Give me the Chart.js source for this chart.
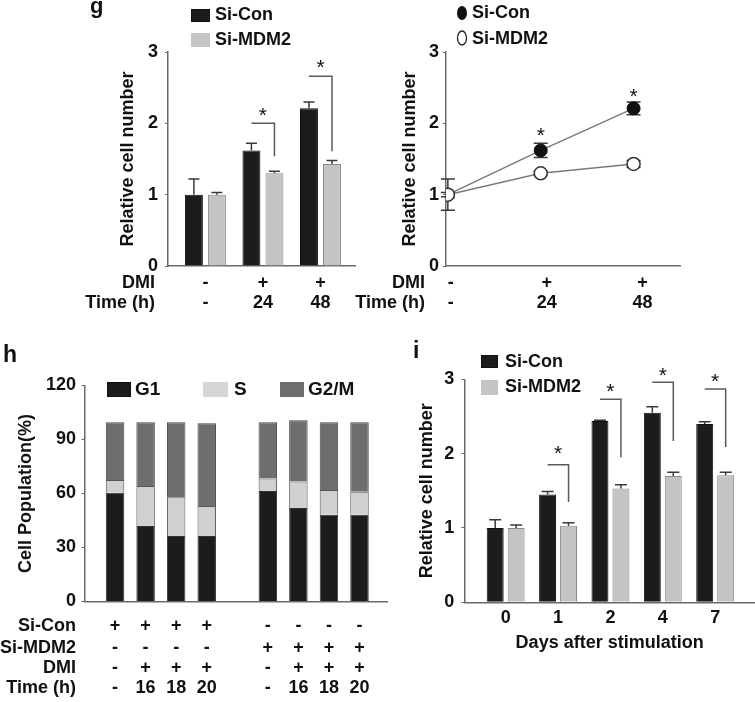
<!DOCTYPE html>
<html lang="en">
<head>
<meta charset="UTF-8">
<title>Relative cell number and cell cycle distribution</title>
<script src="https://cdn.jsdelivr.net/npm/chart.js@4"></script>
<style>
    body { margin: 0; background: #fff; }
    #wrap { position: relative; width: 755px; height: 702px; overflow: hidden; }
    canvas { position: absolute; }
</style>
</head>
<body>
<div id="wrap">
    <canvas id="gBar" width="290" height="320" style="left:80px;top:0"></canvas>
    <canvas id="gLine" width="415" height="320" style="left:340px;top:0"></canvas>
    <canvas id="hBar" width="405" height="372" style="left:0;top:330px"></canvas>
    <canvas id="iBar" width="350" height="372" style="left:405px;top:330px"></canvas>
</div>
<script>
// panel g: relative cell number (bars and line show the same values)
const gGroups = [0, 1, 2];
const gDmi = ['-', '+', '+'];
const gTime = ['-', '24', '48'];
const gConMean = [1.0, 1.62, 2.21];
const gConErr = [0.22, 0.10, 0.09];
const gMdmMean = [1.0, 1.30, 1.43];
const gMdmErr = [0.03, 0.03, 0.05];
const gBracketTop = [null, 2.0, 2.66];
const gBracketDrop = [null, 1.54, 1.61];
const gStarY = [null, 2.19, 2.86];
const gLineStarY = [null, 1.90, 2.45];

// panel h: cell cycle distribution (%)
const hSlots = [1, 2, 3, 4, 6, 7, 8, 9];
const hG1 = [60.4, 41.9, 36.4, 36.4, 61.4, 51.9, 48.2, 48.2];
const hS = [7.1, 22.3, 21.5, 16.7, 7.0, 14.7, 13.7, 12.8];
const hG2M = [32.1, 35.4, 41.7, 45.9, 31.2, 34.1, 37.7, 38.6];
const hSiCon = ['+', '+', '+', '+', '-', '-', '-', '-'];
const hSiMdm = ['-', '-', '-', '-', '+', '+', '+', '+'];
const hDmi = ['-', '+', '+', '+', '-', '+', '+', '+'];
const hTime = ['-', '16', '18', '20', '-', '16', '18', '20'];

// panel i: days after stimulation
const iDays = ['0', '1', '2', '4', '7'];
const iConMean = [1.0, 1.45, 2.44, 2.55, 2.40];
const iConErr = [0.11, 0.04, 0.01, 0.08, 0.03];
const iMdmMean = [1.0, 1.03, 1.53, 1.70, 1.71];
const iMdmErr = [0.04, 0.04, 0.05, 0.05, 0.04];
const iBracketTop = [null, 1.85, 2.73, 2.96, 2.87];
const iBracketDrop = [null, 1.35, 1.95, 2.17, 2.09];
const iStarY = [null, 2.07, 2.91, 3.12, 3.05];

const INK = '#111';
const AXIS = '#6a6a6a';
const DARK = '#1c1c1c';
const LIGHT = '#c4c4c4';
const FAMILY = '"Liberation Sans", Arial, sans-serif';
const FONT = { family: FAMILY, size: 18, weight: 'bold' };
const CSS = 'bold 18px ' + FAMILY;

Chart.defaults.animation = false;
Chart.defaults.responsive = false;
Chart.defaults.plugins.legend.display = false;
Chart.defaults.plugins.tooltip.enabled = false;

function yAxis(max, step, title, titlePad, tickPad, width) {
    return {
        min: 0, max: max,
        ticks: { stepSize: step, padding: tickPad, color: INK, font: FONT },
        grid: { drawOnChartArea: false, drawTicks: true, tickLength: 3, color: AXIS },
        border: { color: AXIS, width: 1.5 },
        title: { display: true, text: title, color: INK, font: FONT, padding: { top: titlePad, bottom: 0 } },
        afterFit: s => { s.width = width; }
    };
}

function xAxis(min, max, values, height) {
    return {
        type: 'linear', min: min, max: max, offset: false,
        afterBuildTicks: s => { s.ticks = values.map(v => ({ value: v })); },
        ticks: { display: false },
        grid: { display: false, drawTicks: false },
        border: { color: AXIS, width: 1.5 },
        afterFit: s => { s.height = height; }
    };
}

function text(ctx, s, x, y, align, font, baseline) {
    ctx.save();
    ctx.fillStyle = INK;
    ctx.font = font || CSS;
    ctx.textAlign = align || 'center';
    ctx.textBaseline = baseline || 'middle';
    ctx.fillText(s, x, y);
    ctx.restore();
}

function star(ctx, x, y) {
    text(ctx, '*', x, y + 12, 'center', '21px ' + FAMILY, 'alphabetic');
}

function box(ctx, x, y, w, h, fill, stroke) {
    ctx.save();
    ctx.fillStyle = fill;
    ctx.fillRect(x, y, w, h);
    ctx.strokeStyle = stroke;
    ctx.lineWidth = 1;
    ctx.strokeRect(x + 0.5, y + 0.5, w - 1, h - 1);
    ctx.restore();
}

// error bars: only upward for bars, both ways for points
function errBars(chart, di, means, errs, half, both) {
    const ctx = chart.ctx, y = chart.scales.y;
    ctx.save();
    ctx.strokeStyle = '#3a3a3a';
    ctx.lineWidth = 1.5;
    chart.getDatasetMeta(di).data.forEach((el, i) => {
        const top = y.getPixelForValue(means[i] + errs[i]);
        const bot = both ? y.getPixelForValue(means[i] - errs[i]) : el.y;
        ctx.beginPath();
        ctx.moveTo(el.x, bot); ctx.lineTo(el.x, top);
        ctx.moveTo(el.x - half, top); ctx.lineTo(el.x + half, top);
        if (both) { ctx.moveTo(el.x - half, bot); ctx.lineTo(el.x + half, bot); }
        ctx.stroke();
    });
    ctx.restore();
}

function brackets(chart, tops, drops, stars) {
    const ctx = chart.ctx, y = chart.scales.y;
    const a = chart.getDatasetMeta(0).data, b = chart.getDatasetMeta(1).data;
    ctx.save();
    ctx.strokeStyle = '#5a5a5a';
    ctx.lineWidth = 1.5;
    tops.forEach((t, i) => {
        if (t == null) return;
        const yt = y.getPixelForValue(t);
        ctx.beginPath();
        ctx.moveTo(a[i].x, yt);
        ctx.lineTo(b[i].x, yt);
        ctx.lineTo(b[i].x, y.getPixelForValue(drops[i]));
        ctx.stroke();
        star(ctx, (a[i].x + b[i].x) / 2, y.getPixelForValue(stars[i]));
    });
    ctx.restore();
}

function rowLabels(chart, names, rows, xs, gap, dys, shift) {
    const a = chart.chartArea, sx = chart.scales.x;
    names.forEach((n, r) => {
        const yy = a.bottom + dys[r];
        text(chart.ctx, n, a.left - gap, yy, 'right');
        rows[r].forEach((v, i) => text(chart.ctx, v, sx.getPixelForValue(xs[i]) + (shift ? shift(i) : 0), yy));
    });
}

// ---- g, bars
new Chart(document.getElementById('gBar'), {
    type: 'bar',
    data: {
        datasets: [
            { label: 'Si-Con', data: gGroups.map((x, i) => ({ x: x, y: gConMean[i] })),
              backgroundColor: DARK, borderColor: '#111', borderWidth: 1 },
            { label: 'Si-MDM2', data: gGroups.map((x, i) => ({ x: x, y: gMdmMean[i] })),
              backgroundColor: LIGHT, borderColor: '#8a8a8a', borderWidth: 1 }
        ]
    },
    options: {
        layout: { padding: { top: 52, right: 15, left: 0, bottom: 0 } },
        datasets: { bar: { categoryPercentage: 0.8, barPercentage: 0.78 } },
        scales: {
            x: xAxis(-0.65, 2.6, gGroups, 54),
            y: yAxis(3, 1, 'Relative cell number', 37, 7, 88)
        }
    },
    plugins: [{
        id: 'gBarExtras',
        afterDatasetsDraw(chart) {
            const ctx = chart.ctx;
            errBars(chart, 0, gConMean, gConErr, 5.5, false);
            errBars(chart, 1, gMdmMean, gMdmErr, 5.5, false);
            brackets(chart, gBracketTop, gBracketDrop, gStarY);
            box(ctx, 111, 9, 19, 13, DARK, '#111');
            text(ctx, 'Si-Con', 135, 15, 'left');
            box(ctx, 111, 33, 19, 14, LIGHT, LIGHT);
            text(ctx, 'Si-MDM2', 135, 40, 'left');
            text(ctx, 'g', 10, 13, 'left', 'bold 22px ' + FAMILY, 'alphabetic');
            rowLabels(chart, ['DMI', 'Time (h)'], [gDmi, gTime], gGroups, 13, [17, 37]);
        }
    }]
});

// ---- g, line
new Chart(document.getElementById('gLine'), {
    type: 'line',
    data: {
        datasets: [
            { label: 'Si-Con', order: 1, data: gGroups.map((x, i) => ({ x: x, y: gConMean[i] })),
              borderColor: '#7a7a7a', borderWidth: 1.5, pointRadius: 6.5,
              pointBackgroundColor: '#111', pointBorderColor: '#111', pointBorderWidth: 1 },
            { label: 'Si-MDM2', order: 0, data: gGroups.map((x, i) => ({ x: x, y: gMdmMean[i] })),
              borderColor: '#7a7a7a', borderWidth: 1.5, pointRadius: 6.5,
              pointBackgroundColor: '#fff', pointBorderColor: '#333', pointBorderWidth: 1.5 }
        ]
    },
    options: {
        layout: { padding: { top: 52, right: 75, left: 0, bottom: 0 } },
        scales: {
            x: xAxis(-0.02, 2.5, gGroups, 54),
            y: yAxis(3, 1, 'Relative cell number', 59, 4, 106)
        }
    },
    plugins: [{
        id: 'gLineExtras',
        beforeDatasetsDraw(chart) {
            errBars(chart, 0, gConMean, gConErr, 7, true);
            errBars(chart, 1, gMdmMean, gMdmErr, 7, true);
        },
        afterDatasetsDraw(chart) {
            const ctx = chart.ctx, y = chart.scales.y;
            chart.getDatasetMeta(0).data.forEach((el, i) => {
                if (gLineStarY[i] != null) star(ctx, el.x, y.getPixelForValue(gLineStarY[i]));
            });
            ctx.save();
            ctx.fillStyle = '#111';
            ctx.beginPath(); ctx.ellipse(122, 13, 5, 7, 0, 0, Math.PI * 2); ctx.fill();
            ctx.fillStyle = '#fff'; ctx.strokeStyle = '#222'; ctx.lineWidth = 1.3;
            ctx.beginPath(); ctx.ellipse(122, 38, 4.5, 7, 0, 0, Math.PI * 2); ctx.fill(); ctx.stroke();
            ctx.restore();
            text(ctx, 'Si-Con', 132, 13, 'left');
            text(ctx, 'Si-MDM2', 132, 39, 'left');
            rowLabels(chart, ['DMI', 'Time (h)'], [gDmi, gTime], gGroups, 21, [17, 37], i => 3 + i * 3);
        }
    }]
});

// ---- h, stacked cell cycle
const hX = xAxis(0, 9.9, hSlots, 100.5);
hX.stacked = true;
const hY = yAxis(120, 30, 'Cell Population(%)', 15, 5.5, 84.5);
hY.stacked = true;
new Chart(document.getElementById('hBar'), {
    type: 'bar',
    data: {
        datasets: [
            { label: 'G1', data: hSlots.map((x, i) => ({ x: x, y: hG1[i] })),
              backgroundColor: DARK, borderColor: '#333', borderWidth: 1 },
            { label: 'S', data: hSlots.map((x, i) => ({ x: x, y: hS[i] })),
              backgroundColor: '#d0d0d0', borderColor: '#555', borderWidth: 1 },
            { label: 'G2/M', data: hSlots.map((x, i) => ({ x: x, y: hG2M[i] })),
              backgroundColor: '#6e6e6e', borderColor: '#444', borderWidth: 1 }
        ]
    },
    options: {
        layout: { padding: { top: 55.5, right: 18, left: 0, bottom: 0 } },
        datasets: { bar: { categoryPercentage: 1, barPercentage: 0.605 } },
        scales: { x: hX, y: hY }
    },
    plugins: [{
        id: 'hExtras',
        afterDatasetsDraw(chart) {
            const ctx = chart.ctx;
            const lf = 'bold 19px ' + FAMILY;
            box(ctx, 107, 52, 24, 15, DARK, '#111');
            text(ctx, 'G1', 135, 60, 'left', lf);
            box(ctx, 203, 52, 25, 15, '#d6d6d6', '#d6d6d6');
            text(ctx, 'S', 234, 60, 'left', lf);
            box(ctx, 280, 52, 24, 15, '#6e6e6e', '#6e6e6e');
            text(ctx, 'G2/M', 308, 60, 'left', lf);
            text(ctx, 'h', 3, 32, 'left', 'bold 23px ' + FAMILY, 'alphabetic');
            rowLabels(chart, ['Si-Con', 'Si-MDM2', 'DMI', 'Time (h)'],
                [hSiCon, hSiMdm, hDmi, hTime], hSlots, 8.5, [25, 47, 67, 87]);
        }
    }]
});

// ---- i, days after stimulation
const iPos = iDays.map((d, i) => i);
const iX = xAxis(-0.79, 4.76, iPos, 99.7);
iX.ticks = { display: true, color: INK, font: FONT, padding: 5, callback: v => iDays[v] };
iX.title = { display: true, text: 'Days after stimulation', color: INK, font: FONT, padding: { top: 0, bottom: 48 } };
new Chart(document.getElementById('iBar'), {
    type: 'bar',
    data: {
        datasets: [
            { label: 'Si-Con', data: iPos.map((x, i) => ({ x: x, y: iConMean[i] })),
              backgroundColor: DARK, borderColor: '#111', borderWidth: 1 },
            { label: 'Si-MDM2', data: iPos.map((x, i) => ({ x: x, y: iMdmMean[i] })),
              backgroundColor: LIGHT, borderColor: '#8a8a8a', borderWidth: 1 }
        ]
    },
    options: {
        layout: { padding: { top: 49.3, right: 0, left: 0, bottom: 0 } },
        datasets: { bar: { categoryPercentage: 0.8, barPercentage: 0.81 } },
        scales: {
            x: iX,
            y: yAxis(3, 1, 'Relative cell number', 11, 7, 59.3)
        }
    },
    plugins: [{
        id: 'iExtras',
        afterDatasetsDraw(chart) {
            const ctx = chart.ctx;
            errBars(chart, 0, iConMean, iConErr, 6, false);
            errBars(chart, 1, iMdmMean, iMdmErr, 6, false);
            brackets(chart, iBracketTop, iBracketDrop, iStarY);
            box(ctx, 76, 25, 17, 13, DARK, '#111');
            text(ctx, 'Si-Con', 100, 32, 'left');
            box(ctx, 76, 50, 17, 15, LIGHT, LIGHT);
            text(ctx, 'Si-MDM2', 100, 57, 'left');
            text(ctx, 'i', 8, 28, 'left', 'bold 23px ' + FAMILY, 'alphabetic');
        }
    }]
});
</script>
</body>
</html>
